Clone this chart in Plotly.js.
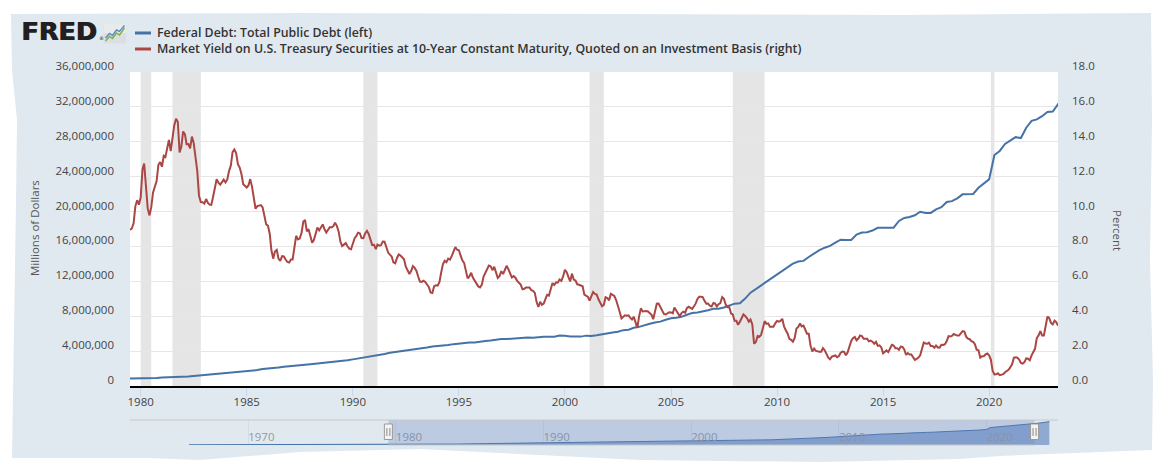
<!DOCTYPE html>
<html>
<head>
<meta charset="utf-8">
<script src="https://cdn.plot.ly/plotly-3.0.1.min.js"></script>
<style>
  html, body { margin: 0; padding: 0; background: #ffffff; width: 1174px; height: 465px; overflow: hidden; }
  #bg { position: absolute; left: 0; top: 0; width: 1174px; height: 465px; background: #e1e9f0;
        clip-path: polygon(11px 14px, 300px 13px, 620px 14px, 900px 15px, 1151px 13px, 1152px 120px, 1150px 260px, 1153px 380px, 1152px 450px, 1100px 452px, 1000px 456px, 960px 459px, 820px 462px, 640px 460px, 420px 449px, 300px 452px, 200px 460px, 150px 458px, 12px 458px, 14px 330px, 16px 200px, 17px 120px, 12px 70px);
  }
  #chart { position: absolute; left: 0; top: 0; width: 1174px; height: 465px; }
</style>
</head>
<body>
<div id="bg"></div>
<div id="chart"></div>
<script>
// ---------------- DATA ----------------
const debtName = 'Federal Debt: Total Public Debt (left)';
const yieldName = 'Market Yield on U.S. Treasury Securities at 10-Year Constant Maturity, Quoted on an Investment Basis (right)';

// Federal debt, millions of dollars, quarterly from 1966 Q1
const debtStart = [1966, 1];
const debtValues = [
  320999, 316097, 324748, 329319,
  330947, 322893, 337613, 344663,
  345578, 347578, 358029, 358016,
  362853, 353720, 360370, 367144,
  372007, 370919, 380899, 389158,
  391662, 398130, 412318, 424131,
  427260, 427753, 436494, 449298,
  458141, 458264, 462204, 469898,
  474235, 474235, 481542, 492665,
  509659, 533189, 553648, 576649,
  599824, 620433, 634701, 653544,
  670873, 680115, 709138, 729193,
  740890, 758754, 780425, 797745,
  806400, 812455, 826519, 845116,
  863451, 883986, 907701, 930210,
  964531, 977421, 997855, 1028729,
  1061298, 1079596, 1142035, 1197073,
  1244983, 1319649, 1377210, 1410702,
  1463721, 1517217, 1572266, 1663017,
  1710651, 1774643, 1823103, 1945941,
  1986773, 2059342, 2125302, 2214834,
  2250748, 2309315, 2350277, 2431715,
  2492045, 2547738, 2602337, 2684392,
  2740879, 2799912, 2857431, 2953003,
  3052035, 3143753, 3233313, 3364820,
  3465184, 3538025, 3665303, 3801698,
  3881277, 3984676, 4064621, 4177009,
  4230580, 4352044, 4411489, 4535687,
  4575869, 4645815, 4692750, 4800150,
  4864131, 4951372, 4973983, 4988665,
  5117786, 5161076, 5224811, 5323172,
  5380890, 5376151, 5413146, 5502388,
  5542430, 5547892, 5526193, 5614217,
  5651615, 5638780, 5656270, 5776091,
  5773391, 5685938, 5674178, 5662216,
  5773739, 5726815, 5807463, 5943439,
  6006032, 6126469, 6228236, 6405707,
  6460776, 6670121, 6783231, 6998005,
  7131068, 7274335, 7379053, 7596144,
  7776939, 7836496, 7932710, 8170424,
  8371156, 8420042, 8506974, 8680224,
  8849665, 8867675, 9007653, 9229172,
  9437594, 9492006, 10024725, 10699805,
  11126941, 11545275, 11909829, 12311350,
  12773123, 13201791, 13561623, 14025215,
  14270114, 14343088, 14790340, 15222940,
  15582079, 15855516, 16066241, 16432730,
  16771379, 16738184, 16738184, 17352020,
  17601227, 17632606, 17824071, 18141444,
  18152056, 18152167, 18150618, 18922179,
  19264939, 19381591, 19573445, 19976827,
  19846420, 19844554, 20244900, 20492874,
  21089643, 21195070, 21516058, 21974096,
  22027880, 22023283, 22719402, 23201380,
  23686854, 26477215, 26945391, 27747798,
  28132570, 28529436, 28428919, 29617215,
  30400960, 30568582, 30928912, 31419689,
  31458438, 32332274, 33167334, 34001494,
  34586533, 35464674
];

// 10-year Treasury yield, percent, monthly from 1979-07
const yieldStart = [1979, 7];
const yieldValues = [
  8.95, 9.03, 9.33, 10.30, 10.65, 10.39,
  10.80, 12.41, 12.75, 11.47, 10.18, 9.78, 10.25, 11.10, 11.51, 11.75, 12.68, 12.84,
  12.57, 13.19, 13.12, 13.68, 14.10, 13.47, 14.28, 14.94, 15.32, 15.15, 13.39, 13.72,
  14.59, 14.43, 13.86, 13.87, 13.62, 14.30, 13.95, 13.06, 12.34, 10.91, 10.55, 10.54,
  10.46, 10.72, 10.51, 10.40, 10.38, 10.85, 11.38, 11.85, 11.65, 11.54, 11.69, 11.83,
  11.67, 11.84, 12.32, 12.63, 13.41, 13.56, 13.36, 12.72, 12.52, 12.16, 11.57, 11.50,
  11.38, 11.51, 11.86, 11.43, 10.85, 10.16, 10.31, 10.33, 10.37, 10.24, 9.78, 9.26,
  9.19, 8.70, 7.78, 7.30, 7.71, 7.80, 7.30, 7.17, 7.45, 7.43, 7.25, 7.11,
  7.08, 7.25, 7.25, 8.02, 8.61, 8.40, 8.45, 8.76, 9.42, 9.52, 8.86, 8.99,
  8.67, 8.21, 8.37, 8.72, 9.09, 8.92, 9.06, 9.26, 8.98, 8.80, 8.96, 9.11,
  9.09, 9.17, 9.36, 9.18, 8.86, 8.28, 8.02, 8.11, 8.19, 8.01, 7.87, 7.84,
  8.21, 8.47, 8.59, 8.79, 8.76, 8.48, 8.47, 8.75, 8.89, 8.72, 8.39, 8.08,
  8.09, 7.85, 8.11, 8.04, 8.07, 8.28, 8.27, 7.90, 7.65, 7.53, 7.42, 7.09,
  7.03, 7.34, 7.54, 7.48, 7.39, 7.26, 6.84, 6.59, 6.42, 6.59, 6.87, 6.77,
  6.60, 6.26, 5.98, 5.97, 6.04, 5.96, 5.81, 5.68, 5.36, 5.33, 5.72, 5.77,
  5.75, 5.97, 6.48, 6.97, 7.18, 7.10, 7.30, 7.24, 7.46, 7.74, 7.96, 7.81,
  7.78, 7.47, 7.20, 7.06, 6.63, 6.17, 6.28, 6.49, 6.20, 6.04, 5.93, 5.71,
  5.65, 5.81, 6.27, 6.51, 6.74, 6.91, 6.87, 6.64, 6.83, 6.53, 6.20, 6.30,
  6.58, 6.42, 6.69, 6.89, 6.71, 6.49, 6.22, 6.30, 6.21, 6.03, 5.88, 5.81,
  5.54, 5.57, 5.65, 5.64, 5.65, 5.50, 5.46, 5.34, 4.81, 4.53, 4.83, 4.65,
  4.72, 5.00, 5.23, 5.18, 5.54, 5.90, 5.79, 5.94, 5.92, 6.11, 6.03, 6.28,
  6.66, 6.52, 6.26, 5.99, 6.44, 6.10, 6.05, 5.83, 5.80, 5.74, 5.72, 5.24,
  5.16, 5.10, 4.89, 5.14, 5.39, 5.28, 5.24, 4.97, 4.73, 4.57, 4.65, 5.09,
  5.04, 4.91, 5.28, 5.21, 5.16, 4.93, 4.65, 4.26, 3.87, 3.94, 4.05, 4.03,
  4.05, 3.90, 3.81, 3.96, 3.57, 3.33, 3.98, 4.45, 4.27, 4.29, 4.30, 4.27,
  4.15, 4.08, 3.83, 4.35, 4.72, 4.73, 4.50, 4.28, 4.13, 4.10, 4.19, 4.23,
  4.22, 4.17, 4.50, 4.34, 4.14, 4.00, 4.18, 4.26, 4.20, 4.46, 4.54, 4.47,
  4.42, 4.57, 4.72, 4.99, 5.11, 5.11, 5.09, 4.88, 4.72, 4.73, 4.60, 4.56,
  4.76, 4.72, 4.56, 4.69, 4.75, 5.10, 5.00, 4.67, 4.52, 4.53, 4.15, 4.10,
  3.74, 3.74, 3.51, 3.68, 3.88, 4.10, 4.01, 3.89, 3.69, 3.81, 3.53, 2.42,
  2.52, 2.87, 2.82, 2.93, 3.29, 3.72, 3.56, 3.59, 3.40, 3.39, 3.40, 3.59,
  3.73, 3.69, 3.73, 3.85, 3.42, 3.20, 3.01, 2.70, 2.65, 2.54, 2.76, 3.29,
  3.39, 3.58, 3.41, 3.46, 3.17, 3.00, 3.00, 2.30, 1.98, 2.15, 2.01, 1.98,
  1.97, 1.97, 2.17, 2.05, 1.80, 1.62, 1.53, 1.68, 1.72, 1.75, 1.65, 1.72,
  1.91, 1.98, 1.96, 1.76, 1.93, 2.30, 2.58, 2.74, 2.81, 2.62, 2.72, 2.90,
  2.86, 2.71, 2.72, 2.71, 2.56, 2.60, 2.54, 2.42, 2.53, 2.30, 2.33, 2.21,
  1.88, 1.98, 2.04, 1.94, 2.20, 2.36, 2.32, 2.17, 2.17, 2.07, 2.26, 2.24,
  2.09, 1.78, 1.89, 1.81, 1.81, 1.64, 1.50, 1.56, 1.63, 1.76, 2.14, 2.49,
  2.43, 2.42, 2.48, 2.30, 2.30, 2.19, 2.32, 2.21, 2.20, 2.36, 2.35, 2.40,
  2.58, 2.86, 2.84, 2.87, 2.98, 2.91, 2.89, 2.89, 3.00, 3.15, 3.12, 2.83,
  2.71, 2.68, 2.57, 2.53, 2.40, 2.07, 2.06, 1.63, 1.70, 1.71, 1.81, 1.86,
  1.76, 1.50, 0.87, 0.66, 0.67, 0.73, 0.62, 0.65, 0.68, 0.79, 0.87, 0.93,
  1.08, 1.26, 1.61, 1.64, 1.62, 1.52, 1.32, 1.28, 1.37, 1.58, 1.56, 1.47,
  1.76, 1.93, 2.13, 2.75, 2.90, 3.14, 2.90, 2.90, 3.52, 3.98, 3.89, 3.62,
  3.53, 3.75, 3.66, 3.46
];

// Recessions (shaded)
const recStart = ['1980-01-01', '1981-07-01', '1990-07-01', '2001-03-01', '2007-12-01', '2020-02-01'];
const recEnd   = ['1980-07-01', '1982-11-01', '1991-03-01', '2001-11-01', '2009-06-01', '2020-04-01'];

// Visible window and navigator window
const viewRange = ['1979-07-01', '2023-04-01'];
const navRange  = ['1962-01-01', '2024-11-01'];

const leftTicks  = [0, 4e6, 8e6, 12e6, 16e6, 20e6, 24e6, 28e6, 32e6, 36e6];
const rightTicks = [0, 2, 4, 6, 8, 10, 12, 14, 16, 18];

// ---------------- HELPERS ----------------
function dateSeq(start, n, stepMonths) {
  const out = [];
  let y = start[0], m = start[1];
  for (let i = 0; i < n; i++) {
    out.push(y + '-' + String(m).padStart(2, '0') + '-01');
    m += stepMonths;
    while (m > 12) { m -= 12; y += 1; }
  }
  return out;
}
const debtDates = dateSeq(debtStart, debtValues.length, 3);
const yieldDates = dateSeq(yieldStart, yieldValues.length, 1);

// layout geometry (pixels)
const W = 1174, H = 465;
const PL = 130, PR = 1058, PT = 72, PB = 445;   // overall plot area
const mainBottom = 386, navTop = 420;
const px = v => (v - PL) / (PR - PL);
const py = v => (PB - v) / (PB - PT);

const BLUE = '#4572a7', RED = '#aa4643';
const FONT = 'Open Sans, Noto Sans, sans-serif';

// ---------------- TRACES ----------------
const traces = [
  { x: debtDates, y: debtValues, type: 'scatter', mode: 'lines', name: debtName,
    xaxis: 'x', yaxis: 'y', line: { color: BLUE, width: 2 }, hoverinfo: 'skip' },
  { x: yieldDates, y: yieldValues, type: 'scatter', mode: 'lines', name: yieldName,
    xaxis: 'x', yaxis: 'y2', line: { color: RED, width: 2 }, hoverinfo: 'skip' },
  { x: debtDates, y: debtValues, type: 'scatter', mode: 'lines', name: 'navigator',
    xaxis: 'x2', yaxis: 'y3', fill: 'tozeroy', fillcolor: '#8eaad0',
    line: { color: BLUE, width: 1 }, hoverinfo: 'skip' }
];

// ---------------- SHAPES ----------------
const shapes = [];
// white plot background of the main panel
shapes.push({ type: 'rect', xref: 'x domain', yref: 'y domain', x0: 0, x1: 1, y0: 0, y1: 1,
  fillcolor: '#ffffff', line: { width: 0 }, layer: 'below' });
// recession bars
for (let i = 0; i < recStart.length; i++) {
  shapes.push({ type: 'rect', xref: 'x', yref: 'y domain', x0: recStart[i], x1: recEnd[i], y0: 0, y1: 1,
    fillcolor: '#e5e5e5', line: { width: 0 }, layer: 'below' });
}
// navigator mask over the selected window
shapes.push({ type: 'rect', xref: 'x2', yref: 'paper', x0: viewRange[0], x1: viewRange[1], y0: 0, y1: py(navTop),
  fillcolor: 'rgba(102,133,194,0.3)', line: { width: 0 }, layer: 'above' });
// navigator outline
shapes.push({ type: 'line', xref: 'paper', yref: 'paper', x0: 0, x1: 1, y0: py(navTop), y1: py(navTop),
  line: { color: '#c8c8c8', width: 1 }, layer: 'above' });
shapes.push({ type: 'line', xref: 'x2', yref: 'paper', x0: viewRange[0], x1: viewRange[1], y0: 0, y1: 0,
  line: { color: '#c8c8c8', width: 1 }, layer: 'above' });
// navigator handles
viewRange.forEach(d => {
  shapes.push({ type: 'rect', xref: 'x2', xsizemode: 'pixel', xanchor: d, x0: -4, x1: 4,
    yref: 'paper', y0: py(439.5), y1: py(424), fillcolor: '#f4f4f4', line: { color: '#999999', width: 1 }, layer: 'above' });
  [-1.5, 1.5].forEach(o => {
    shapes.push({ type: 'line', xref: 'x2', xsizemode: 'pixel', xanchor: d, x0: o, x1: o,
      yref: 'paper', y0: py(436), y1: py(428), line: { color: '#888888', width: 1 }, layer: 'above' });
  });
});
// legend samples
shapes.push({ type: 'line', xref: 'paper', yref: 'paper', x0: px(135), x1: px(151), y0: py(33), y1: py(33),
  line: { color: BLUE, width: 3 } });
shapes.push({ type: 'line', xref: 'paper', yref: 'paper', x0: px(135), x1: px(151), y0: py(49), y1: py(49),
  line: { color: RED, width: 3 } });
// FRED icon
shapes.push({ type: 'rect', xref: 'paper', yref: 'paper', x0: px(103.5), x1: px(126), y0: py(43.5), y1: py(24),
  fillcolor: '#dcdee0', line: { width: 0 } });
shapes.push({ type: 'rect', xref: 'paper', yref: 'paper', x0: px(103.5), x1: px(126), y0: py(33), y1: py(24),
  fillcolor: '#e8eaec', line: { width: 0 } });
shapes.push({ type: 'path', xref: 'paper', yref: 'paper',
  path: 'M' + px(105.5) + ',' + py(41) + ' L' + px(109.5) + ',' + py(36.5) + ' L' + px(112.5) + ',' + py(38.5) +
        ' L' + px(116.5) + ',' + py(33) + ' L' + px(119.5) + ',' + py(35) + ' L' + px(124.5) + ',' + py(28),
  line: { color: '#7bb04a', width: 1.4 } });
shapes.push({ type: 'path', xref: 'paper', yref: 'paper',
  path: 'M' + px(105.5) + ',' + py(38) + ' L' + px(109.5) + ',' + py(33.5) + ' L' + px(112.5) + ',' + py(35.5) +
        ' L' + px(116.5) + ',' + py(30) + ' L' + px(119.5) + ',' + py(31.5) + ' L' + px(124.5) + ',' + py(25.5),
  line: { color: '#5d8ac6', width: 1.4 } });

// ---------------- ANNOTATIONS ----------------
const legendFont = { family: FONT, size: 12.35, color: '#333333', weight: 600 };
const logoFont = { family: 'DejaVu Sans', size: 25.5, color: '#231f20', weight: 900 };
const annotations = [
  { text: 'FRED', xref: 'paper', yref: 'paper', x: px(19), y: py(30.5), xanchor: 'left', yanchor: 'middle',
    showarrow: false, font: logoFont },
  { text: 'FRED', xref: 'paper', yref: 'paper', x: px(19.8), y: py(30.5), xanchor: 'left', yanchor: 'middle',
    showarrow: false, font: logoFont },
  { text: '®', xref: 'paper', yref: 'paper', x: px(96.5), y: py(38), xanchor: 'left', yanchor: 'middle',
    showarrow: false, font: { family: 'DejaVu Sans', size: 5, color: '#231f20' } },
  { text: debtName, xref: 'paper', yref: 'paper', x: px(155), y: py(33), xanchor: 'left', yanchor: 'middle',
    showarrow: false, font: legendFont },
  { text: yieldName, xref: 'paper', yref: 'paper', x: px(155), y: py(48.5), xanchor: 'left', yanchor: 'middle',
    showarrow: false, font: legendFont },
  { text: 'Millions of Dollars', xref: 'paper', yref: 'paper', x: px(35), y: py(228), xanchor: 'center', yanchor: 'middle',
    textangle: -90, showarrow: false, font: { family: FONT, size: 11.5, color: '#555555' } },
  { text: 'Percent', xref: 'paper', yref: 'paper', x: px(1117), y: py(230), xanchor: 'center', yanchor: 'middle',
    textangle: 90, showarrow: false, font: { family: FONT, size: 11.5, color: '#555555' } }
];

// ---------------- LAYOUT ----------------
const mainDomain = [py(mainBottom), 1];
const navDomain = [0, py(navTop)];
const tickFont = { family: FONT, size: 11.5, color: '#444444' };

const layout = {
  width: W, height: H,
  margin: { l: PL, r: W - PR, t: PT, b: H - PB, pad: 0 },
  paper_bgcolor: 'rgba(0,0,0,0)',
  plot_bgcolor: 'rgba(0,0,0,0)',
  showlegend: false,
  xaxis: {
    domain: [0, 1], anchor: 'y', type: 'date', range: viewRange,
    tick0: '1980-01-01', dtick: 'M60', tickformat: '%Y',
    showgrid: false, zeroline: false,
    showline: true, linecolor: '#000000', linewidth: 2,
    ticks: 'outside', ticklen: 8, tickwidth: 1, tickcolor: '#ccd6eb',
    ticklabelstandoff: -4,
    tickfont: tickFont
  },
  yaxis: {
    domain: mainDomain, anchor: 'x', range: [0, 36e6],
    tickvals: leftTicks, tickformat: ',',
    showgrid: true, gridcolor: '#e6e6e6', gridwidth: 1, zeroline: false, showline: false,
    ticks: '', ticklabelstandoff: 15, ticklabelshift: -6, tickfont: tickFont
  },
  yaxis2: {
    overlaying: 'y', side: 'right', anchor: 'x', range: [0, 18],
    tickvals: rightTicks, tickformat: '.1f',
    showgrid: false, zeroline: false, showline: false,
    ticks: '', ticklabelstandoff: 13, ticklabelshift: -6, tickfont: tickFont
  },
  xaxis2: {
    domain: [0, 1], anchor: 'y3', type: 'date', range: navRange,
    tick0: '1970-01-01', dtick: 'M120', tickformat: '%Y',
    showgrid: true, gridcolor: '#d5dce3', zeroline: false, showline: false,
    ticks: '', ticklabelposition: 'inside right', ticklabelstandoff: -4,
    tickfont: { family: FONT, size: 11.5, color: '#999999' }
  },
  yaxis3: {
    domain: navDomain, anchor: 'x2', range: [0, 38e6],
    showgrid: false, zeroline: false, showline: false, showticklabels: false, ticks: ''
  },
  shapes: shapes,
  annotations: annotations
};

Plotly.newPlot('chart', traces, layout, { staticPlot: true, displayModeBar: false });
</script>
</body>
</html>
